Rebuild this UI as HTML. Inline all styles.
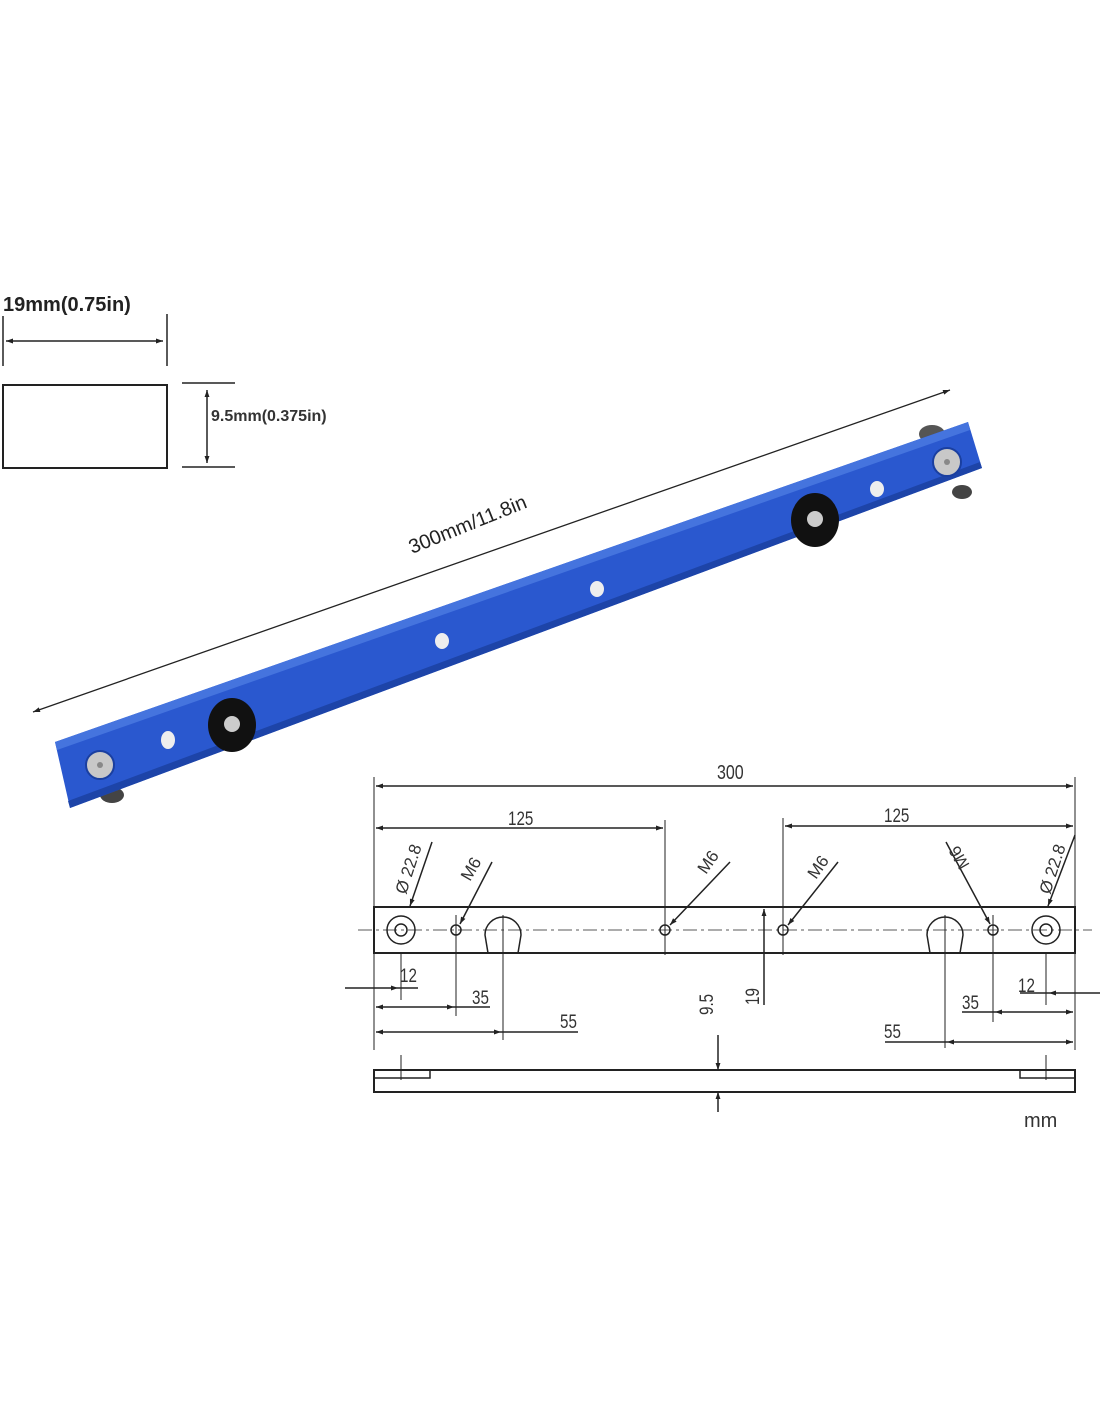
<!DOCTYPE html>
<html><head><meta charset="utf-8"><style>
html,body{margin:0;padding:0;background:#fff;width:1100px;height:1422px;overflow:hidden}
svg{display:block}
text{font-family:"Liberation Sans",sans-serif}
.d{font-family:"Liberation Sans",sans-serif;font-size:17px;fill:#333}
</style></head><body>
<svg width="1100" height="1422" viewBox="0 0 1100 1422" xmlns="http://www.w3.org/2000/svg">
<defs>
<marker id="a" viewBox="0 0 10 10" refX="10" refY="5" markerWidth="9" markerHeight="7" orient="auto-start-reverse" markerUnits="userSpaceOnUse"><path d="M0,1.5 L10,5 L0,8.5 z" fill="#222"/></marker>
</defs>
<text x="3" y="311" font-size="20" font-weight="bold" fill="#222">19mm(0.75in)</text>
<g stroke="#222" stroke-width="1.5" fill="none">
<line x1="3" y1="316" x2="3" y2="366"/>
<line x1="167" y1="314" x2="167" y2="366"/>
<line x1="6" y1="341" x2="163" y2="341" marker-start="url(#a)" marker-end="url(#a)"/>
<rect x="3" y="385" width="164" height="83" stroke-width="2"/>
<line x1="182" y1="383" x2="235" y2="383"/>
<line x1="182" y1="467" x2="235" y2="467"/>
<line x1="207" y1="390" x2="207" y2="463" marker-start="url(#a)" marker-end="url(#a)"/>
</g>
<text x="211" y="421" font-size="16" font-weight="bold" fill="#333">9.5mm(0.375in)</text>
<line x1="33" y1="712" x2="950" y2="390" stroke="#222" stroke-width="1.3" marker-start="url(#a)" marker-end="url(#a)"/>
<text x="0" y="0" font-size="20" fill="#222" transform="translate(412,554) rotate(-22)">300mm/11.8in</text>
<!-- wheels behind bar -->
<ellipse cx="96" cy="742" rx="13" ry="10" fill="#555"/>
<ellipse cx="112" cy="795" rx="12" ry="8" fill="#444"/>
<ellipse cx="932" cy="434" rx="13" ry="9" fill="#555"/>
<ellipse cx="962" cy="492" rx="10" ry="7" fill="#444"/>
<polygon points="55,742 968,422 982,468 70,808" fill="#2a58cf"/>
<polygon points="55,742 968,422 970,430 57,750" fill="#4574de"/>
<polygon points="70,808 982,468 980,462 68,801" fill="#1d44a8"/>
<circle cx="100" cy="765" r="14" fill="#c8c8c8" stroke="#1a3fa0" stroke-width="2"/>
<circle cx="100" cy="765" r="3" fill="#888"/>
<circle cx="947" cy="462" r="14" fill="#c8c8c8" stroke="#1a3fa0" stroke-width="2"/>
<circle cx="947" cy="462" r="3" fill="#888"/>
<ellipse cx="168" cy="740" rx="7" ry="9" fill="#eee"/>
<ellipse cx="877" cy="489" rx="7" ry="8" fill="#eee"/>
<ellipse cx="442" cy="641" rx="7" ry="8" fill="#eee"/>
<ellipse cx="597" cy="589" rx="7" ry="8" fill="#eee"/>
<ellipse cx="232" cy="725" rx="24" ry="27" fill="#111"/>
<circle cx="232" cy="724" r="8" fill="#ccc"/>
<ellipse cx="815" cy="520" rx="24" ry="27" fill="#111"/>
<circle cx="815" cy="519" r="8" fill="#ccc"/>
<g stroke="#222" stroke-width="1.5" fill="none">
<line x1="374" y1="777" x2="374" y2="1050" stroke-width="1"/>
<line x1="1075" y1="777" x2="1075" y2="1050" stroke-width="1"/>
<line x1="376" y1="786" x2="1073" y2="786" marker-start="url(#a)" marker-end="url(#a)"/>
<line x1="376" y1="828" x2="663" y2="828" marker-start="url(#a)" marker-end="url(#a)"/>
<line x1="785" y1="826" x2="1073" y2="826" marker-start="url(#a)" marker-end="url(#a)"/>
<line x1="665" y1="820" x2="665" y2="955" stroke-width="1"/>
<line x1="783" y1="818" x2="783" y2="955" stroke-width="1"/>
<rect x="374" y="907" width="701" height="46" stroke-width="2"/>
<line x1="358" y1="930" x2="1092" y2="930" stroke-width="0.8" stroke-dasharray="14,4,3,4"/>
<circle cx="401" cy="930" r="14"/><circle cx="401" cy="930" r="6"/>
<circle cx="1046" cy="930" r="14"/><circle cx="1046" cy="930" r="6"/>
<circle cx="456" cy="930" r="5"/><circle cx="665" cy="930" r="5"/>
<circle cx="783" cy="930" r="5"/><circle cx="993" cy="930" r="5"/>
<path d="M488,953 L485,935 A18,18 0 1 1 521,935 L518,953"/>
<path d="M930,953 L927,935 A18,18 0 1 1 963,935 L960,953"/>
<line x1="401" y1="953" x2="401" y2="1000" stroke-width="1"/>
<line x1="456" y1="915" x2="456" y2="1016" stroke-width="1"/>
<line x1="503" y1="915" x2="503" y2="1040" stroke-width="1"/>
<line x1="945" y1="915" x2="945" y2="1048" stroke-width="1"/>
<line x1="993" y1="915" x2="993" y2="1022" stroke-width="1"/>
<line x1="1046" y1="953" x2="1046" y2="1005" stroke-width="1"/>
<line x1="345" y1="988" x2="398" y2="988" marker-end="url(#a)"/>
<line x1="398" y1="988" x2="418" y2="988"/>
<line x1="376" y1="1007" x2="454" y2="1007" marker-start="url(#a)" marker-end="url(#a)"/>
<line x1="454" y1="1007" x2="490" y2="1007"/>
<line x1="376" y1="1032" x2="501" y2="1032" marker-start="url(#a)" marker-end="url(#a)"/>
<line x1="501" y1="1032" x2="578" y2="1032"/>
<line x1="1100" y1="993" x2="1049" y2="993" marker-end="url(#a)"/>
<line x1="1020" y1="993" x2="1049" y2="993"/>
<line x1="995" y1="1012" x2="1073" y2="1012" marker-start="url(#a)" marker-end="url(#a)"/>
<line x1="962" y1="1012" x2="995" y2="1012"/>
<line x1="947" y1="1042" x2="1073" y2="1042" marker-start="url(#a)" marker-end="url(#a)"/>
<line x1="885" y1="1042" x2="947" y2="1042"/>
<line x1="764" y1="1005" x2="764" y2="909" marker-end="url(#a)"/>
<line x1="718" y1="1035" x2="718" y2="1070" marker-end="url(#a)"/>
<line x1="718" y1="1112" x2="718" y2="1092" marker-end="url(#a)"/>
<path d="M374,1070 H1075 V1092 H374 Z" stroke-width="2"/>
<path d="M374,1078 H430 V1070 M1075,1078 H1020 V1070"/>
<line x1="401" y1="1055" x2="401" y2="1080" stroke-width="1"/>
<line x1="1046" y1="1055" x2="1046" y2="1080" stroke-width="1"/>
<line x1="432" y1="842" x2="410" y2="906" marker-end="url(#a)"/>
<line x1="492" y1="862" x2="460" y2="924" marker-end="url(#a)"/>
<line x1="730" y1="862" x2="670" y2="925" marker-end="url(#a)"/>
<line x1="838" y1="862" x2="788" y2="925" marker-end="url(#a)"/>
<line x1="946" y1="842" x2="990" y2="924" marker-end="url(#a)"/>
<line x1="1075" y1="835" x2="1048" y2="906" marker-end="url(#a)"/>
</g>
<g class="d" fill="#333">
<text transform="translate(717,779) scale(0.8,1)" font-size="20">300</text>
<text transform="translate(508,825) scale(0.8,1)" font-size="19">125</text>
<text transform="translate(884,822) scale(0.8,1)" font-size="19">125</text>
<text transform="translate(400,982) scale(0.8,1)" font-size="19">12</text>
<text transform="translate(472,1004) scale(0.8,1)" font-size="19">35</text>
<text transform="translate(560,1028) scale(0.8,1)" font-size="19">55</text>
<text transform="translate(1018,992) scale(0.8,1)" font-size="19">12</text>
<text transform="translate(962,1009) scale(0.8,1)" font-size="19">35</text>
<text transform="translate(884,1038) scale(0.8,1)" font-size="19">55</text>
<text transform="translate(759,1005) rotate(-90) scale(0.8,1)" font-size="19">19</text>
<text transform="translate(713,1015) rotate(-90) scale(0.8,1)" font-size="19">9.5</text>
<text transform="translate(406,895) rotate(-72)">Ø 22.8</text>
<text transform="translate(470,882) rotate(-60)">M6</text>
<text transform="translate(706,875) rotate(-55)">M6</text>
<text transform="translate(816,880) rotate(-55)">M6</text>
<text transform="translate(970,865) rotate(-120)">M6</text>
<text transform="translate(1050,895) rotate(-72)">Ø 22.8</text>
</g>
<text x="1024" y="1127" font-size="20" fill="#333">mm</text>
</svg>
</body></html>
